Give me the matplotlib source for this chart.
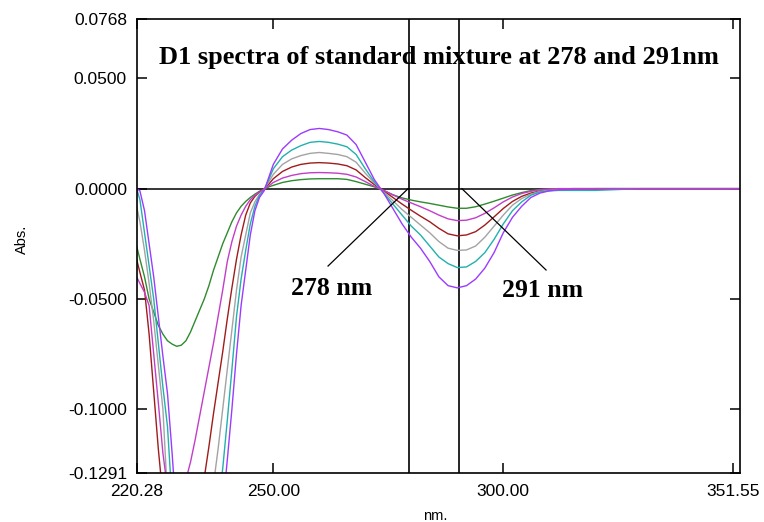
import numpy as np
import matplotlib
matplotlib.use("Agg")
import matplotlib.pyplot as plt

# wavelength grid (nm)
wl = [220.28, 221, 222, 223, 224, 225, 226, 227, 228, 229, 230, 231, 232, 233, 234,
      235, 236, 237, 238, 239, 240, 241, 242, 243, 244, 245, 246, 247, 248, 249,
      250, 252, 254, 256, 258, 260, 262, 264, 266, 268, 270, 272, 274, 276, 278,
      280, 282, 284, 286, 288, 290, 292, 294, 296, 298, 300, 302, 304, 306, 308,
      310, 312, 315, 320, 330, 340, 351.55]

# D1 values, one list per standard mixture
green = [-0.026, -0.032, -0.040, -0.050, -0.056, -0.062, -0.066, -0.069, -0.0705, -0.0715,
         -0.071, -0.069, -0.065, -0.060, -0.055, -0.050, -0.044, -0.037, -0.031, -0.025,
         -0.020, -0.015, -0.011, -0.008, -0.0058, -0.004, -0.0025, -0.0012, -0.0003, 0.0008,
         0.0015, 0.0028, 0.0036, 0.0041, 0.0044, 0.0045, 0.0045, 0.0045, 0.0042, 0.0032,
         0.0020, 0.0008, -0.0008, -0.0028, -0.0042, -0.0052, -0.0060, -0.0067, -0.0075, -0.0083,
         -0.0089, -0.0089, -0.0082, -0.0070, -0.0057, -0.0043, -0.0029, -0.0018, -0.0009, -0.0004,
         -0.0001, 0.0, 0.0, 0.0, 0.0, 0.0, 0.0]
magenta = [-0.040, -0.043, -0.047, -0.053, -0.075, -0.097, -0.120, -0.136, -0.142, -0.142,
           -0.139, -0.132, -0.124, -0.114, -0.103, -0.092, -0.081, -0.070, -0.058, -0.046,
           -0.033, -0.024, -0.017, -0.012, -0.008, -0.005, -0.003, -0.0015, -0.0003, 0.0012,
           0.0028, 0.0048, 0.0060, 0.0068, 0.0072, 0.0073, 0.0072, 0.0070, 0.0065, 0.0053,
           0.0032, 0.0010, -0.0008, -0.0028, -0.0048, -0.0065, -0.0082, -0.0100, -0.0120, -0.0137,
           -0.0145, -0.0143, -0.0132, -0.0112, -0.0087, -0.0060, -0.0038, -0.0022, -0.0012, -0.0005,
           -0.0002, 0.0, 0.0, 0.0, 0.0, 0.0, 0.0]
darkred = [-0.032, -0.038, -0.046, -0.066, -0.092, -0.118, -0.140, -0.155, -0.163, -0.166,
           -0.165, -0.161, -0.155, -0.148, -0.140, -0.131, -0.117, -0.102, -0.088, -0.074,
           -0.059, -0.045, -0.032, -0.021, -0.012, -0.0065, -0.0035, -0.0015, -0.0002, 0.0020,
           0.0045, 0.0078, 0.0098, 0.0110, 0.0116, 0.0118, 0.0116, 0.0112, 0.0104, 0.0085,
           0.0050, 0.0018, -0.0010, -0.0040, -0.0070, -0.0098, -0.0125, -0.0150, -0.0180, -0.0205,
           -0.0214, -0.0210, -0.0195, -0.0165, -0.0128, -0.0090, -0.0058, -0.0035, -0.0020, -0.0010,
           -0.0005, -0.0002, 0.0, 0.0, 0.0, 0.0, 0.0]
gray = [-0.008, -0.015, -0.028, -0.043, -0.060, -0.080, -0.100, -0.140, -0.155, -0.166,
        -0.172, -0.175, -0.175, -0.172, -0.166, -0.158, -0.148, -0.134, -0.118, -0.100,
        -0.082, -0.064, -0.046, -0.031, -0.021, -0.011, -0.006, -0.0025, -0.0003, 0.0030,
        0.0065, 0.0110, 0.0135, 0.0150, 0.0160, 0.0164, 0.0160, 0.0155, 0.0145, 0.0120,
        0.0070, 0.0025, -0.0015, -0.0055, -0.0095, -0.0130, -0.0165, -0.0200, -0.0240, -0.0270,
        -0.0280, -0.0278, -0.0260, -0.0220, -0.0170, -0.0120, -0.0075, -0.0045, -0.0025, -0.0012,
        -0.0006, -0.0003, 0.0, 0.0, 0.0, 0.0, 0.0]
teal = [0.0, -0.005, -0.020, -0.035, -0.050, -0.070, -0.090, -0.108, -0.142, -0.160,
        -0.172, -0.180, -0.184, -0.185, -0.183, -0.178, -0.170, -0.160, -0.145, -0.127,
        -0.105, -0.082, -0.058, -0.041, -0.028, -0.016, -0.008, -0.003, -0.0005, 0.0040,
        0.0090, 0.0145, 0.0175, 0.0195, 0.0210, 0.0214, 0.0210, 0.0202, 0.0190, 0.0155,
        0.0090, 0.0030, -0.0020, -0.0070, -0.0120, -0.0170, -0.0210, -0.0260, -0.0310, -0.0340,
        -0.0358, -0.0355, -0.0330, -0.0290, -0.0230, -0.0160, -0.0100, -0.0060, -0.0030, -0.0015,
        -0.0010, -0.0008, -0.0008, -0.0008, 0.0, 0.0, 0.0]
violet = [0.0, -0.001, -0.010, -0.025, -0.040, -0.058, -0.076, -0.093, -0.120, -0.150,
          -0.170, -0.183, -0.190, -0.194, -0.195, -0.192, -0.186, -0.178, -0.165, -0.145,
          -0.123, -0.100, -0.075, -0.053, -0.037, -0.021, -0.010, -0.004, -0.001, 0.0050,
          0.0110, 0.0180, 0.0220, 0.0250, 0.0268, 0.0273, 0.0268, 0.0258, 0.0243, 0.0200,
          0.0120, 0.0040, -0.0020, -0.0090, -0.0160, -0.0220, -0.0270, -0.0330, -0.0400, -0.0440,
          -0.0450, -0.0440, -0.0410, -0.0360, -0.0290, -0.0200, -0.0130, -0.0080, -0.0040, -0.0020,
          -0.0010, -0.0005, -0.0003, 0.0, 0.0, 0.0, 0.0]

series = [(green, '#2e8b2e'), (darkred, '#a01c1c'), (gray, '#a3a3a3'),
          (teal, '#22b0ae'), (violet, '#9b3bff'), (magenta, '#c23ec8')]

cursor_wl = [279.6, 290.3]
xticks = [220.28, 250.0, 300.0, 350.0]
xticklabels = ['220.28', '250.00', '300.00', '351.55']
yticks = [-0.1291, -0.1, -0.05, 0.0, 0.05, 0.0768]
yticklabels = ['-0.1291', '-0.1000', '-0.0500', '0.0000', '0.0500', '0.0768']

fig = plt.figure(figsize=(7.64, 5.22), dpi=100)
ax = fig.add_axes([0.1788, 0.0933, 0.7903, 0.8697])

ax.axhline(0, color='black', lw=1.1, zorder=1)
for c in cursor_wl:
    ax.axvline(c, color='black', lw=1.2, zorder=1)
for vals, col in series:
    ax.plot(wl, vals, color=col, lw=1.0, zorder=2)

ax.set_xlim(220.28, 351.55)
ax.set_ylim(-0.1291, 0.0768)
ax.set_xticks(xticks)
ax.set_xticklabels(xticklabels)
ax.set_yticks(yticks)
ax.set_yticklabels(yticklabels)
ax.tick_params(direction='in', length=7, width=1.1, top=True, right=True,
               labelsize=12.5, colors='black')
ax.tick_params(axis='y', pad=7)
ax.tick_params(axis='x', pad=8)
for lab in ax.get_xticklabels() + ax.get_yticklabels():
    lab.set_family('Liberation Sans')
for s in ax.spines.values():
    s.set_linewidth(1.2)

ax.set_xlabel('nm.', family='Liberation Sans', fontsize=10.5)
ax.set_ylabel('Abs.', family='Liberation Sans', fontsize=10.5)
ax.xaxis.set_label_coords(0.494, -0.078)
ax.yaxis.set_label_coords(-0.178, 0.515)

ax.text(0.5, 0.915, 'D1 spectra of standard mixture at 278 and 291nm',
        transform=ax.transAxes, ha='center', va='center',
        family='Liberation Serif', fontweight='bold', fontsize=19)

# cursor labels with leader lines
ax.plot([261.9, 279.3], [-0.0351, 0.0], color='black', lw=0.9)
ax.plot([291.0, 309.3], [0.0, -0.0369], color='black', lw=0.9)
ax.text(262.7, -0.0452, '278 nm', ha='center', va='center',
        family='Liberation Serif', fontweight='bold', fontsize=18.5)
ax.text(308.6, -0.0464, '291 nm', ha='center', va='center',
        family='Liberation Serif', fontweight='bold', fontsize=18.5)

fig.savefig('out.png', dpi=100)
